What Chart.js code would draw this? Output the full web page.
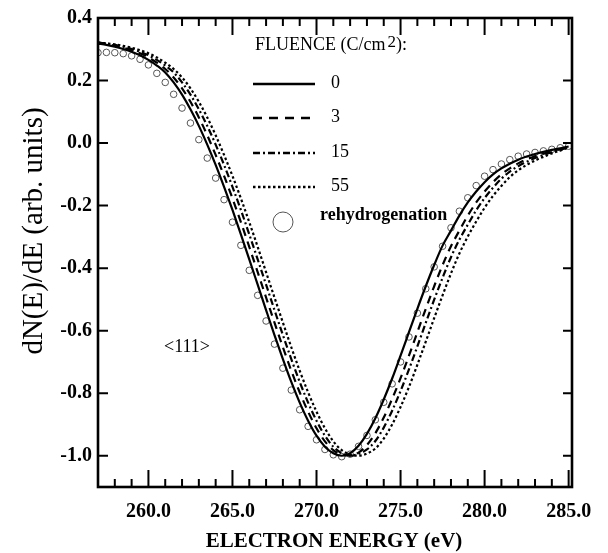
<!DOCTYPE html>
<html>
<head>
<meta charset="utf-8">
<script src="https://cdn.jsdelivr.net/npm/chart.js@4.4.0/dist/chart.umd.min.js"></script>
<style>
  html, body { margin: 0; padding: 0; background: #fff; }
  #caixa { width: 608px; height: 553px; position: relative; }
</style>
</head>
<body>
<div id="caixa"><canvas id="graficoEnergia"></canvas></div>
<script>
const energia = [257, 257.5, 258, 258.5, 259, 259.5, 260, 260.5, 261, 261.5,
  262, 262.5, 263, 263.5, 264, 264.5, 265, 265.5, 266, 266.5,
  267, 267.5, 268, 268.5, 269, 269.5, 270, 270.5, 271, 271.5,
  272, 272.5, 273, 273.5, 274, 274.5, 275, 275.5, 276, 276.5,
  277, 277.5, 278, 278.5, 279, 279.5, 280, 280.5, 281, 281.5,
  282, 282.5, 283, 283.5, 284, 284.5, 285];

const fluencia0 = [0.318, 0.314, 0.308, 0.301, 0.292, 0.281, 0.266, 0.248, 0.226, 0.194,
  0.155, 0.108, 0.055, -0.005, -0.070, -0.140, -0.214, -0.292, -0.372, -0.453,
  -0.534, -0.614, -0.691, -0.764, -0.830, -0.888, -0.936, -0.971, -0.992, -1.000,
  -0.992, -0.968, -0.930, -0.880, -0.820, -0.753, -0.680, -0.605, -0.530, -0.458,
  -0.390, -0.328, -0.280, -0.232, -0.190, -0.155, -0.125, -0.100, -0.081, -0.066,
  -0.053, -0.043, -0.035, -0.028, -0.022, -0.017, -0.011];

const fluencia3 = [0.322, 0.318, 0.311, 0.305, 0.297, 0.287, 0.274, 0.257, 0.237, 0.210,
  0.175, 0.132, 0.082, 0.025, -0.038, -0.105, -0.177, -0.253, -0.332, -0.413,
  -0.494, -0.574, -0.653, -0.728, -0.797, -0.859, -0.912, -0.954, -0.982, -0.996,
  -0.999, -0.990, -0.966, -0.928, -0.878, -0.818, -0.752, -0.680, -0.605, -0.530,
  -0.458, -0.390, -0.330, -0.280, -0.232, -0.190, -0.155, -0.125, -0.100, -0.081,
  -0.065, -0.052, -0.042, -0.034, -0.026, -0.019, -0.012];

const fluencia15 = [0.321, 0.318, 0.314, 0.308, 0.301, 0.292, 0.281, 0.266, 0.248, 0.226,
  0.194, 0.155, 0.108, 0.055, -0.005, -0.070, -0.140, -0.214, -0.292, -0.372,
  -0.453, -0.534, -0.614, -0.691, -0.764, -0.830, -0.888, -0.936, -0.971, -0.992,
  -1.000, -0.994, -0.980, -0.953, -0.910, -0.856, -0.793, -0.724, -0.650, -0.575,
  -0.501, -0.431, -0.365, -0.309, -0.261, -0.215, -0.176, -0.143, -0.114, -0.091,
  -0.074, -0.060, -0.048, -0.038, -0.029, -0.021, -0.013];

const fluencia55 = [0.321, 0.319, 0.316, 0.311, 0.305, 0.297, 0.287, 0.274, 0.257, 0.237,
  0.210, 0.175, 0.132, 0.082, 0.025, -0.038, -0.105, -0.177, -0.253, -0.332,
  -0.413, -0.494, -0.574, -0.653, -0.728, -0.797, -0.859, -0.912, -0.954, -0.982,
  -0.996, -1.000, -0.993, -0.977, -0.945, -0.900, -0.844, -0.780, -0.709, -0.635,
  -0.560, -0.487, -0.417, -0.353, -0.299, -0.251, -0.207, -0.169, -0.137, -0.109,
  -0.087, -0.070, -0.056, -0.044, -0.033, -0.024, -0.014];

const reidrogenacao = [0.289, 0.290, 0.289, 0.286, 0.279, 0.268, 0.250, 0.223, 0.194, 0.156,
  0.112, 0.064, 0.011, -0.048, -0.112, -0.181, -0.253, -0.327, -0.407, -0.487,
  -0.569, -0.643, -0.720, -0.790, -0.853, -0.906, -0.949, -0.980, -0.997, -1.003,
  -0.995, -0.970, -0.935, -0.885, -0.829, -0.770, -0.700, -0.620, -0.544, -0.466,
  -0.396, -0.330, -0.271, -0.218, -0.175, -0.136, -0.106, -0.085, -0.067, -0.053,
  -0.042, -0.035, -0.030, -0.025, -0.020, -0.015, -0.010];

const ticksX = [260, 265, 270, 275, 280, 285];
const ticksXMenores = [258, 259, 260, 261, 262, 263, 264, 265, 266, 267, 268, 269, 270, 271,
  272, 273, 274, 275, 276, 277, 278, 279, 280, 281, 282, 283, 284, 285];
const ticksY = [-1.0, -0.8, -0.6, -0.4, -0.2, 0.0, 0.2, 0.4];

const fonteSerif = '"Liberation Serif", "Times New Roman", serif';

function pontos(valores) {
  return energia.map((e, i) => ({ x: e, y: valores[i] }));
}

function linha(rotulo, valores, tracejado) {
  return {
    label: rotulo,
    data: pontos(valores),
    borderColor: '#000',
    borderWidth: 2.2,
    borderDash: tracejado,
    pointRadius: 0,
    fill: false,
    cubicInterpolationMode: 'monotone'
  };
}

// moldura com marcas para dentro nos quatro lados
const marcasInternas = {
  id: 'marcasInternas',
  afterDatasetsDraw(chart) {
    const { ctx: c, chartArea: a, scales } = chart;
    c.save();
    c.strokeStyle = '#000';
    c.lineWidth = 2;
    c.beginPath();
    ticksXMenores.forEach((v) => {
      const px = scales.x.getPixelForValue(v);
      const comp = ticksX.includes(v) ? 17 : 8;
      c.moveTo(px, a.bottom); c.lineTo(px, a.bottom - comp);
      c.moveTo(px, a.top); c.lineTo(px, a.top + comp);
    });
    ticksY.forEach((v) => {
      const py = scales.y.getPixelForValue(v);
      c.moveTo(a.left, py); c.lineTo(a.left + 10, py);
      c.moveTo(a.right, py); c.lineTo(a.right - 9, py);
    });
    c.stroke();
    c.lineWidth = 2.6;
    c.strokeRect(a.left, a.top, a.right - a.left, a.bottom - a.top);
    c.restore();
  }
};

// legenda, textos e titulos dos eixos
const textosGrafico = {
  id: 'textosGrafico',
  afterDatasetsDraw(chart) {
    const c = chart.ctx;
    c.save();
    c.fillStyle = '#000';
    c.strokeStyle = '#000';

    c.font = '18px ' + fonteSerif;
    c.textAlign = 'left';
    c.textBaseline = 'alphabetic';
    let x = 255;
    c.fillText('FLUENCE (C/cm', x, 50);
    x += c.measureText('FLUENCE (C/cm').width + 2;
    c.font = '17px ' + fonteSerif;
    c.fillText('2', x, 47);
    x += c.measureText('2').width;
    c.font = '18px ' + fonteSerif;
    c.fillText('):', x, 50);

    const linhas = [
      { y: 84, txt: '0', dash: [] },
      { y: 118, txt: '3', dash: [9, 7] },
      { y: 153, txt: '15', dash: [7, 3, 2, 3] },
      { y: 187, txt: '55', dash: [2.5, 2.5] }
    ];
    linhas.forEach((l) => {
      c.beginPath();
      c.lineWidth = 2.4;
      c.setLineDash(l.dash);
      c.moveTo(253, l.y);
      c.lineTo(315, l.y);
      c.stroke();
      c.setLineDash([]);
      c.textBaseline = 'middle';
      c.fillText(l.txt, 331, l.y - 1);
    });

    c.beginPath();
    c.lineWidth = 1;
    c.strokeStyle = '#555';
    c.arc(283, 222, 10, 0, Math.PI * 2);
    c.stroke();

    c.font = 'bold 18px ' + fonteSerif;
    c.textBaseline = 'middle';
    c.fillText('rehydrogenation', 320, 215);

    c.font = '18px ' + fonteSerif;
    c.textAlign = 'center';
    c.fillText('<111>', 187, 347);

    c.font = 'bold 21px ' + fonteSerif;
    c.fillText('ELECTRON ENERGY (eV)', 334, 542);

    c.translate(34, 231);
    c.rotate(-Math.PI / 2);
    c.font = '29px ' + fonteSerif;
    c.fillText('dN(E)/dE (arb. units)', 0, 0);
    c.restore();
  }
};

const ctx = document.getElementById('graficoEnergia');

const grafico = new Chart(ctx, {
  type: 'line',
  data: {
    datasets: [
      linha('0', fluencia0, []),
      linha('3', fluencia3, [8, 6]),
      linha('15', fluencia15, [7, 3, 2, 3]),
      linha('55', fluencia55, [2.5, 2.5]),
      {
        label: 'rehydrogenation',
        type: 'scatter',
        data: pontos(reidrogenacao),
        showLine: false,
        pointStyle: 'circle',
        pointRadius: 3.3,
        pointBackgroundColor: 'rgba(0,0,0,0)',
        pointBorderColor: '#555',
        pointBorderWidth: 1
      }
    ]
  },
  options: {
    responsive: true,
    maintainAspectRatio: false,
    animation: false,
    layout: { padding: { left: 0, top: 16, right: 36, bottom: 0 } },
    plugins: {
      legend: { display: false },
      tooltip: { enabled: false }
    },
    scales: {
      x: {
        type: 'linear',
        min: 257,
        max: 285.2,
        grid: { display: false, drawTicks: false },
        border: { display: false },
        ticks: {
          color: '#000',
          padding: 13,
          maxRotation: 0,
          autoSkip: false,
          font: { family: fonteSerif, size: 20, weight: 'bold' },
          callback: (v) => Number(v).toFixed(1)
        },
        afterBuildTicks: (s) => { s.ticks = ticksX.map((v) => ({ value: v })); },
        afterFit: (s) => { s.height = 66; }
      },
      y: {
        type: 'linear',
        min: -1.1,
        max: 0.4,
        grid: { display: false, drawTicks: false },
        border: { display: false },
        ticks: {
          color: '#000',
          padding: 6,
          font: { family: fonteSerif, size: 20, weight: 'bold' },
          callback: (v) => Number(v).toFixed(1)
        },
        afterBuildTicks: (s) => { s.ticks = ticksY.map((v) => ({ value: v })); },
        afterFit: (s) => { s.width = 98; }
      }
    }
  },
  plugins: [marcasInternas, textosGrafico]
});
</script>
</body>
</html>
